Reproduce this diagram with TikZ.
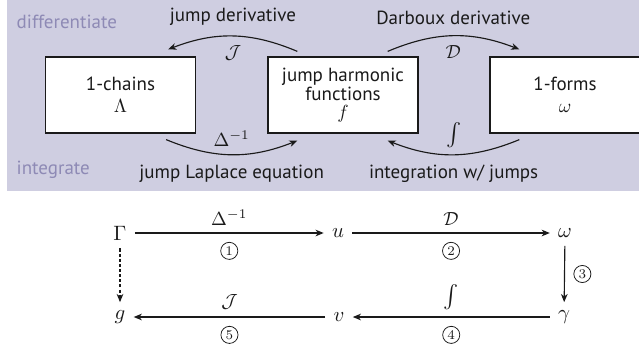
\documentclass[tikz,border=0pt]{standalone}
\usepackage{amsmath,amssymb}
\usepackage{fontspec}
\setmainfont{PT Sans}
\usepackage{tikz}
\usetikzlibrary{arrows.meta,positioning,calc}
\usepackage{xcolor}
\definecolor{panel}{HTML}{CFCEE1}
\definecolor{sidetext}{HTML}{8E8AB5}
\definecolor{ink}{HTML}{1A1A1A}

\begin{document}
\begin{tikzpicture}[x=0.5263pt, y=0.5263pt,
  every node/.style={font=\normalsize, text=ink},
  box/.style={draw=ink, fill=white, line width=0.65pt, minimum width=79pt,
              minimum height=40pt, align=center, inner sep=0pt},
  arr/.style={-{Stealth[length=4.3pt, width=3.5pt, inset=1.3pt]}, line width=0.6pt, ink},
  side/.style={text=sidetext, anchor=west},
  pt/.style={inner sep=4.2pt, font=\fontsize{10.95}{13}\selectfont},
  circnum/.style={circle, draw=ink, line width=0.4pt, minimum size=9pt,
                  inner sep=0pt, font=\scriptsize}
]
  \useasboundingbox (0,0) rectangle (639,-350);

  % Panel
  \fill[panel] (7,0) rectangle (639,-191);
  \node[side] (diff) at (10,-22) {differentiate};
  \node[side] (integ) at (10,-170) {integrate};

  % Spaces
  \node[box] (chains) at (120.5,-95) {1-chains\\[-0.5pt]$\Lambda$};
  \node[box] (harm) at (343,-95) {jump harmonic\\[-2pt]functions\\[-2.5pt]$f$};
  \node[box] (forms) at (565,-95) {1-forms\\[-0.5pt]$\omega$};

  % Maps between them
  \draw[arr] ($(harm.north west)+(30,5)$) to[bend right=22]
    node[above=2pt] (jd) {jump derivative}
    node[below=1.5pt] (jop) {$\mathcal{J}$}
    ($(chains.north east)+(-28,7)$);
  \draw[arr] ($(harm.north east)+(-31,5)$) to[bend left=22]
    node[above=2pt] (dd) {Darboux derivative}
    node[below=1.5pt] (dop) {$\mathcal{D}$}
    ($(forms.north west)+(30,7)$);
  \draw[arr] ($(chains.south east)+(-30,-6)$) to[bend right=22]
    node[above=0.5pt] (lop) {$\Delta^{-1}$}
    node[below=2pt] (jl) {jump Laplace equation}
    ($(harm.south west)+(30,-7)$);
  \draw[arr] ($(forms.south west)+(30,-6)$) to[bend left=22]
    node[above=0pt, font=\large] (iop) {$\int$}
    node[below=2pt] (ij) {integration w/ jumps}
    ($(harm.south east)+(-31,-7)$);

  % Procedure
  \node[pt] (Gam) at (120,-233) {$\Gamma$};
  \node[pt] (u) at (338,-233) {$u$};
  \node[pt] (om) at (565,-233) {$\omega$};
  \node[pt] (g) at (120,-317) {$g$};
  \node[pt] (v) at (339,-317) {$v$};
  \node[pt] (gam) at (564,-317) {$\gamma$};

  \draw[arr] (Gam) -- node[above=0.5pt] (a1) {$\Delta^{-1}$}
    node[circnum, below=4.7pt] (n1) {$1$} (u);
  \draw[arr] (u) -- node[above=0.5pt] (a2) {$\mathcal{D}$}
    node[circnum, below=4.7pt] (n2) {$2$} (om);
  \draw[arr] (om) -- node[circnum, right=4.7pt] (n3) {$3$} (gam);
  \draw[arr] (gam) -- node[above=0pt, font=\large] (a4) {$\int$}
    node[circnum, below=4.7pt] (n4) {$4$} (v);
  \draw[arr] (v) -- node[above=0.5pt] (a5) {$\mathcal{J}$}
    node[circnum, below=4.7pt] (n5) {$5$} (g);
  \draw[arr, dash pattern=on 1.6pt off 1.1pt] (Gam) -- (g);
\end{tikzpicture}
\end{document}
